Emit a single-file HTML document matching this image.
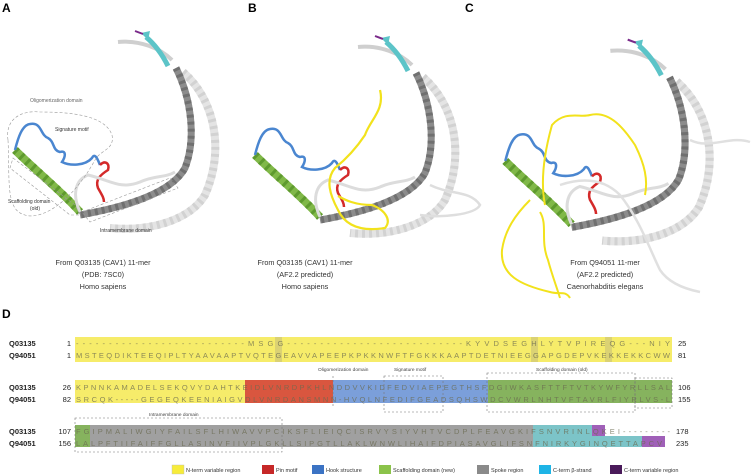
<!DOCTYPE html>
<html><head><meta charset="utf-8"><style>
html,body{margin:0;padding:0;background:#fff;width:756px;height:475px;overflow:hidden}
svg{display:block}
text{font-family:"Liberation Sans",sans-serif}
</style></head><body>
<svg width="756" height="475" viewBox="0 0 756 475" xmlns="http://www.w3.org/2000/svg">
<defs>
<g id="baseStruct">
  <path d="M183 72 C215 100 225 150 205 195 C190 220 150 232 110 228" fill="none" stroke="#e4e4e4" stroke-width="8"/>
  <path d="M183 72 C215 100 225 150 205 195 C190 220 150 232 110 228" fill="none" stroke="#d2d2d2" stroke-width="8" stroke-dasharray="3 4"/>
  <path d="M176 68 C192 100 196 140 185 168 C170 195 120 208 80 215" fill="none" stroke="#8c8c8c" stroke-width="7"/>
  <path d="M176 68 C192 100 196 140 185 168 C170 195 120 208 80 215" fill="none" stroke="#707070" stroke-width="7" stroke-dasharray="3 4"/>
  <path d="M118 42 C140 40 160 48 172 60" fill="none" stroke="#cfcfcf" stroke-width="4"/>
  <path d="M168 66 C160 50 152 42 146 37" fill="none" stroke="#5cc4c8" stroke-width="5"/>
  <path d="M141 33 l9 -2 l-2 9 z" fill="#5cc4c8"/>
  <path d="M135 31 l8 3" stroke="#7a2a8a" stroke-width="2"/>
  <path d="M15 150 C35 170 60 190 80 212" fill="none" stroke="#80b848" stroke-width="8"/>
  <path d="M15 150 C35 170 60 190 80 212" fill="none" stroke="#5e9a2e" stroke-width="8" stroke-dasharray="3 5"/>
  <path d="M15 150 C18 138 22 125 30 124 C42 122 40 135 48 138 C55 142 52 150 60 152 C66 150 66 156 62 162 C70 166 85 166 92 158 C95 152 98 160 100 165" fill="none" stroke="#4a86d0" stroke-width="2.5"/>
  <path d="M100 165 C105 160 110 163 108 170 C100 175 95 180 98 188 C102 195 104 198 104 202" fill="none" stroke="#d42a2a" stroke-width="2.5"/>
  <path d="M80 212 C72 195 75 180 88 175 C110 180 120 190 140 182 C155 175 165 178 175 172" fill="none" stroke="#dcdcdc" stroke-width="3"/>
</g>
</defs>

<text x="2" y="12" font-size="12" font-weight="bold">A</text>
<text x="248" y="12" font-size="12" font-weight="bold">B</text>
<text x="465" y="12" font-size="12" font-weight="bold">C</text>
<text x="2" y="318" font-size="12" font-weight="bold">D</text>

<use href="#baseStruct"/>
<path d="M8 140 C5 120 20 110 40 112 C70 112 105 115 112 135 C115 150 100 150 95 160 C70 205 40 220 25 215 C5 210 10 180 8 140 Z" fill="none" stroke="#999" stroke-width="0.6" stroke-dasharray="3 2"/>
<path d="M13 158 L75 205 L80 215 L70 215 L10 168 Z" fill="none" stroke="#999" stroke-width="0.6" stroke-dasharray="3 2"/>
<path d="M82 212 L170 178 L178 188 L90 222 Z" fill="none" stroke="#999" stroke-width="0.6" stroke-dasharray="3 2"/>
<text x="30" y="102" font-size="5" fill="#666">Oligomerization domain</text>
<text x="55" y="131" font-size="5" fill="#333">Signature motif</text>
<text x="8" y="203" font-size="5" fill="#333">Scaffolding domain</text>
<text x="30" y="210" font-size="5" fill="#333">(old)</text>
<text x="100" y="232" font-size="5" fill="#333">Intramembrane domain</text>
<g font-size="7.3" fill="#333" text-anchor="middle">
<text x="103" y="265">From Q03135 (CAV1) 11-mer</text>
<text x="103" y="277">(PDB: 7SC0)</text>
<text x="103" y="289">Homo sapiens</text>
</g>

<g transform="translate(240,5)"><use href="#baseStruct"/></g>
<path d="M380 90 C385 110 370 120 365 135 C355 150 345 160 335 168 C325 180 330 195 338 210 C345 225 360 232 385 228 C392 220 385 210 372 205 C355 205 345 200 338 196" fill="none" stroke="#f2e21c" stroke-width="2.2"/>
<path d="M430 185 C450 195 470 190 480 205 C475 215 440 218 420 215" fill="none" stroke="#dedede" stroke-width="2.5"/>
<g font-size="7.3" fill="#333" text-anchor="middle">
<text x="305" y="265">From Q03135 (CAV1) 11-mer</text>
<text x="305" y="277">(AF2.2 predicted)</text>
<text x="305" y="289">Homo sapiens</text>
</g>

<g transform="translate(490,8) scale(1.02)"><use href="#baseStruct"/></g>
<path d="M545 205 C540 180 545 150 552 125 C565 110 580 118 590 115 C610 110 625 130 635 145 C645 165 648 180 645 195" fill="none" stroke="#f2e21c" stroke-width="2"/>
<path d="M530 200 C515 215 505 230 502 250 C500 275 520 285 550 292 C560 295 565 290 570 298" fill="none" stroke="#f2e21c" stroke-width="2"/>
<path d="M540 212 C548 225 540 240 548 260 C552 275 556 285 560 298" fill="none" stroke="#f2e21c" stroke-width="2"/>
<path d="M560 185 C575 180 600 175 620 195 C640 220 650 250 660 270 C670 285 690 290 700 292" fill="none" stroke="#e0e0e0" stroke-width="2.5"/>
<path d="M690 140 C710 150 730 135 750 142" fill="none" stroke="#e0e0e0" stroke-width="2.5"/>
<g font-size="7.3" fill="#333" text-anchor="middle">
<text x="605" y="265">From Q94051 11-mer</text>
<text x="605" y="277">(AF2.2 predicted)</text>
<text x="605" y="289">Caenorhabditis elegans</text>
</g>

<g font-size="7.5" font-weight="bold" fill="#222">
<text x="9" y="346">Q03135</text><text x="9" y="358">Q94051</text>
<text x="9" y="390">Q03135</text><text x="9" y="402">Q94051</text>
<text x="9" y="434">Q03135</text><text x="9" y="446">Q94051</text>
</g>
<g font-size="7.5" fill="#222" text-anchor="end">
<text x="71" y="346">1</text><text x="71" y="358">1</text>
<text x="71" y="390">26</text><text x="71" y="402">82</text>
<text x="71" y="434">107</text><text x="71" y="446">156</text>
</g>
<g font-size="7.5" fill="#222">
<text x="678" y="346">25</text><text x="678" y="358">81</text>
<text x="678" y="390">106</text><text x="678" y="402">155</text>
<text x="676" y="434">178</text><text x="676" y="446">235</text>
</g>
<rect x="75" y="337" width="597" height="25" fill="#f6ec6a"/>
<rect x="275" y="337" width="7" height="25" fill="#c9c27a" opacity="0.6"/>
<rect x="531" y="337" width="7" height="25" fill="#c9c27a" opacity="0.6"/>
<rect x="605" y="337" width="7" height="25" fill="#c9c27a" opacity="0.6"/>
<rect x="75" y="380" width="170" height="23" fill="#f6ec6a"/>
<rect x="245" y="380" width="88" height="23" fill="#d9563f"/>
<rect x="333" y="380" width="155" height="23" fill="#7b9fda"/>
<rect x="488" y="380" width="184" height="23" fill="#86b35e"/>
<rect x="75" y="425" width="15" height="22" fill="#86b35e"/>
<rect x="90" y="425" width="443" height="22" fill="#a0a0a0"/>
<rect x="533" y="425" width="59" height="11" fill="#7cc4c8"/>
<rect x="592" y="425" width="13" height="11" fill="#a060b8"/>
<rect x="533" y="436" width="109" height="11" fill="#7cc4c8"/>
<rect x="642" y="436" width="23" height="11" fill="#a060b8"/>
<g font-size="7.5" fill="#6a6a50" opacity="0.75">
<text x="76" y="346" textLength="594" lengthAdjust="spacing">--------------------------MSGG---------------------------KYVDSEGHLYTVPIREQG---NIY</text>
<text x="76" y="358" textLength="594" lengthAdjust="spacing">MSTEQDIKTEEQIPLTYAAVAAPTVQTEGEAVVAPEEPKPKKNWFTFGKKKAAPTDETNIEEGGAPGDEPVKEKKEKKCWW</text>
<text x="76" y="390" textLength="594" lengthAdjust="spacing">KPNNKAMADELSEKQVYDAHTKEIDLVNRDPKHLNDDVVKIDFEDVIAEPEGTHSFDGIWKASFTTFTVTKYWFYRLLSAL</text>
<text x="76" y="402" textLength="594" lengthAdjust="spacing">SRCQK-----GEGEQKEENIAIGVDLVNRDANSMNN-HVQLNFEDIFGEADSQHSWDCVWRLNHTVFTAVRLFIYRLVS-L</text>
<text x="76" y="434" textLength="594" lengthAdjust="spacing">FGIPMALIWGIYFAILSFLHIWAVVPCIKSFLIEIQCISRVYSIYVHTVCDPLFEAVGKIFSNVRINLQKEI---------</text>
<text x="76" y="446" textLength="586" lengthAdjust="spacing">LALPFTIIFAIFFGLLASINVFIIVPLGKLLSIPGTLLAKLWNWLIHAIFDPIASAVGLIFSNFNIRKYGINQETTAPCV</text>
</g>
<g fill="none" stroke="#777" stroke-width="0.6" stroke-dasharray="2 2">
<rect x="384" y="376" width="59" height="36"/>
<rect x="487" y="373" width="148" height="39"/>
<rect x="635" y="378" width="37" height="30"/>
<rect x="75" y="418" width="207" height="34"/>
<path d="M333 376 L333 407"/>
</g>
<g font-size="4.8" fill="#444">
<text x="318" y="371">Oligomerization domain</text>
<text x="394" y="371">Signature motif</text>
<text x="536" y="371">Scaffolding domain (old)</text>
<text x="149" y="416">Intramembrane domain</text>
</g>
<g font-size="5.5" fill="#333">
<rect x="172" y="465" width="12" height="9" fill="#f7ec3a" stroke="#bbb" stroke-width="0.4"/><text x="186" y="472">N-term variable region</text>
<rect x="262" y="465" width="12" height="9" fill="#c62828"/><text x="276" y="472">Pin motif</text>
<rect x="312" y="465" width="12" height="9" fill="#3b73c4"/><text x="326" y="472">Hook structure</text>
<rect x="379" y="465" width="12" height="9" fill="#8bc34a"/><text x="393" y="472">Scaffolding domain (new)</text>
<rect x="477" y="465" width="12" height="9" fill="#8a8a8a"/><text x="491" y="472">Spoke region</text>
<rect x="539" y="465" width="12" height="9" fill="#1eb4e6"/><text x="553" y="472">C-term β-strand</text>
<rect x="610" y="465" width="12" height="9" fill="#4a1a5a"/><text x="624" y="472">C-term variable region</text>
</g>
</svg>
</body></html>
